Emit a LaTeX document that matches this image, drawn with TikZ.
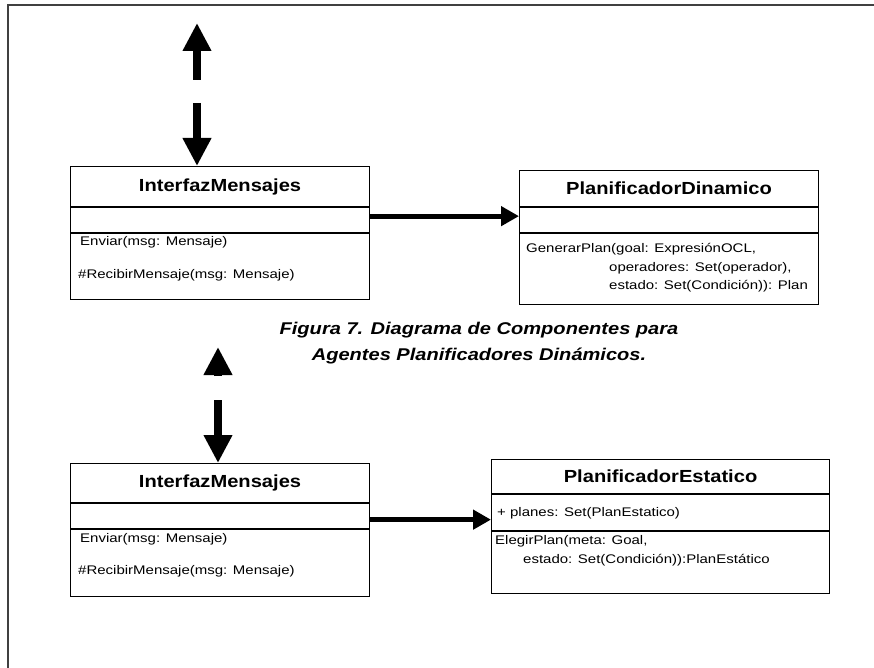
\documentclass[tikz,border=0pt]{standalone}
\usepackage{fontspec}
\setmainfont{Liberation Sans}
\newfontfamily\umlbody[FakeStretch=1.2]{Liberation Sans}
\newfontfamily\umltitle[FakeStretch=1.15]{Liberation Sans}
\newfontfamily\umlcaption[FakeStretch=1.18]{Liberation Sans}
\usetikzlibrary{arrows.meta,calc}
\begin{document}
\begin{tikzpicture}[x=1pt,y=-1pt,
  compart/.style={draw, line width=1.1pt, rectangle, inner sep=0pt,
    anchor=north west, minimum width=#1},
  titletext/.style={font=\umltitle\fontsize{17.5}{20}\selectfont\bfseries},
  member/.style={anchor=west, inner sep=0pt, text height=9pt, text depth=3pt,
    font=\umlbody\fontsize{12.5}{14}\selectfont},
  link/.style={line width=5pt, -{Triangle[length=18pt,width=19pt]}},
  vlink/.style={line width=8pt, -{Triangle[length=28pt,width=27pt]}},
  captiontext/.style={align=center, inner sep=0pt,
    font=\umlcaption\fontsize{17}{26}\selectfont\bfseries\itshape}
]
\useasboundingbox (0,0) rectangle (874,668);

% outer frame (open to the right and bottom)
\draw[line width=1.8pt, black!75] (8,670) -- (8,5) -- (876,5);

% ---------- upper diagram ----------
\node[compart=299, minimum height=40, titletext] (im1h) at (70,166) {InterfazMensajes};
\node[compart=299, minimum height=25] (im1a) at (im1h.south west) {};
\node[compart=299, minimum height=66] (im1o) at (im1a.south west) {};
\node[member] (im1m1) at (80,242) {Enviar(msg: Mensaje)};
\node[member] (im1m2) at (78,275) {\#RecibirMensaje(msg: Mensaje)};

\node[compart=299, minimum height=36, titletext] (pdh) at (519,170) {PlanificadorDinamico};
\node[compart=299, minimum height=25] (pda) at (pdh.south west) {};
\node[compart=299, minimum height=71] (pdo) at (pda.south west) {};
\node[member] (pdm1) at (526,249) {GenerarPlan(goal: ExpresiónOCL,};
\node[member] (pdm2) at (609,268) {operadores: Set(operador),};
\node[member] (pdm3) at (609,286) {estado: Set(Condición)): Plan};

\draw[link] ([yshift=4pt]im1a.east) -- ([yshift=4pt]pda.west);

\coordinate (u1tail) at (197,80);
\coordinate (u1tip) at (197,23);
\coordinate (d1tail) at (197,103);
\draw[vlink] (u1tail) -- (u1tip);
\draw[vlink] (d1tail) -- (d1tail |- im1h.north);

\node[captiontext] (cap) at (479,343) {Figura 7. Diagrama de Componentes para\\Agentes Planificadores Dinámicos.};

% ---------- lower diagram ----------
\node[compart=299, minimum height=39, titletext] (im2h) at (70,463) {InterfazMensajes};
\node[compart=299, minimum height=25] (im2a) at (im2h.south west) {};
\node[compart=299, minimum height=67] (im2o) at (im2a.south west) {};
\node[member] (im2m1) at (80,539) {Enviar(msg: Mensaje)};
\node[member] (im2m2) at (78,571) {\#RecibirMensaje(msg: Mensaje)};

\node[compart=338, minimum height=34, titletext] (peh) at (491,459) {PlanificadorEstatico};
\node[compart=338, minimum height=36] (pea) at (peh.south west) {};
\node[compart=338, minimum height=62] (peo) at (pea.south west) {};
\node[member] (pem1) at (497,513) {+ planes: Set(PlanEstatico)};
\node[member] (pem2) at (495,541) {ElegirPlan(meta: Goal,};
\node[member] (pem3) at (523,560) {estado: Set(Condición)):PlanEstático};

\coordinate (l2start) at ([yshift=-3.5pt]im2a.east);
\draw[link] (l2start) -- (l2start -| pea.west);

\coordinate (u2tail) at (218,376);
\coordinate (u2tip) at (218,347);
\coordinate (d2tail) at (218,400);
\draw[vlink] (u2tail) -- (u2tip);
\draw[vlink] (d2tail) -- (d2tail |- im2h.north);
\end{tikzpicture}
\end{document}
